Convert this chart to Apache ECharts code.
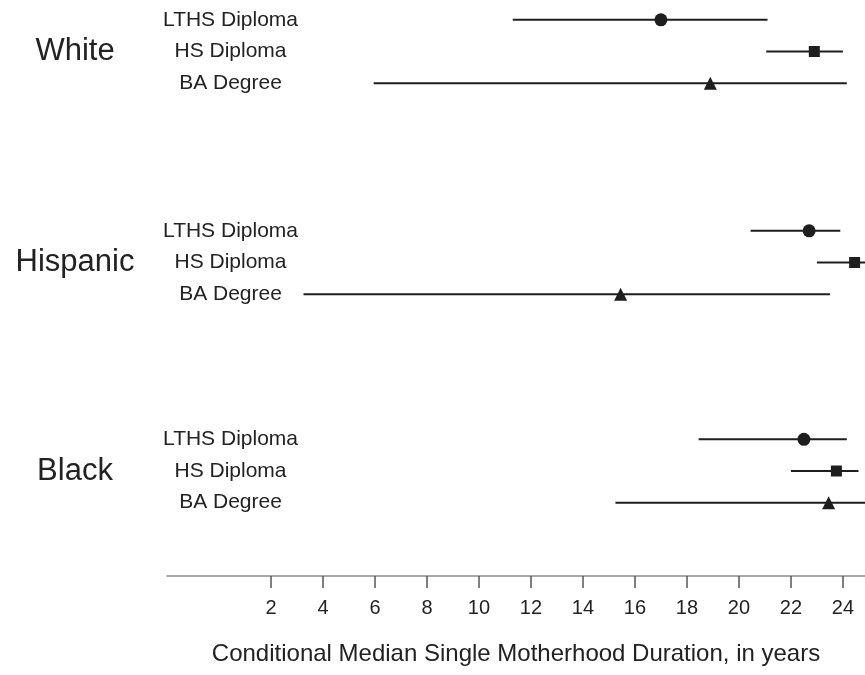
<!DOCTYPE html>
<html>
<head>
<meta charset="utf-8">
<script src="https://cdn.jsdelivr.net/npm/echarts@6/dist/echarts.min.js"></script>
<style>
  html, body { margin: 0; padding: 0; background: #fff; }
  #durationChart { width: 865px; height: 675px; }
</style>
</head>
<body>
<div id="durationChart"></div>
<script>
// groups and education levels
var groups = ['White', 'Hispanic', 'Black'];
var levels = ['LTHS Diploma', 'HS Diploma', 'BA Degree'];

// conditional median + interval, in years (LTHS, HS, BA)
var whiteMedian = [17.0, 22.9, 18.9];
var whiteLow = [11.3, 21.05, 5.95];
var whiteHigh = [21.1, 24.0, 24.15];

var hispanicMedian = [22.7, 24.45, 15.45];
var hispanicLow = [20.45, 23.0, 3.25];
var hispanicHigh = [23.9, 25.5, 23.5];

var blackMedian = [22.5, 23.75, 23.45];
var blackLow = [18.45, 22.0, 15.25];
var blackHigh = [24.15, 24.6, 25.5];

var xTicks = [2, 4, 6, 8, 10, 12, 14, 16, 18, 20, 22, 24];

var ink = '#1e1e1e';
var font = 'Liberation Sans, Arial, sans-serif';
var markers = ['circle', 'rect', 'triangle'];
var markerSizes = [13, 11, 13];

var medians = [whiteMedian, hispanicMedian, blackMedian];
var lows = [whiteLow, hispanicLow, blackLow];
var highs = [whiteHigh, hispanicHigh, blackHigh];

var gridTops = [4, 215, 423.5];
var grids = [], xAxes = [], yAxes = [], series = [];

groups.forEach(function (g, gi) {
  grids.push({ left: 167, right: 0, top: gridTops[gi], height: 95, containLabel: false });
  var isLast = gi === groups.length - 1;
  xAxes.push({
    type: 'value',
    gridIndex: gi,
    min: -2,
    max: 24.85,
    interval: 2,
    show: isLast,
    offset: isLast ? 57.5 : 0,
    splitLine: { show: false },
    axisLine: { show: true, lineStyle: { color: '#8c8c8c', width: 1.5 } },
    axisTick: { show: true, length: 12, customValues: xTicks, lineStyle: { color: '#555', width: 1.5 } },
    axisLabel: { customValues: xTicks, margin: 22, fontSize: 20, color: '#222', fontFamily: font },
    name: isLast ? 'Conditional Median Single Motherhood Duration, in years' : '',
    nameLocation: 'middle',
    nameGap: 66,
    nameTextStyle: { fontSize: 24, color: '#222', fontFamily: font }
  });
  yAxes.push({
    type: 'category',
    gridIndex: gi,
    inverse: true,
    data: levels,
    axisLine: { show: false },
    axisTick: { show: false },
    splitLine: { show: false },
    axisLabel: { inside: true, align: 'center', margin: 63.5, fontSize: 21, color: '#222', fontFamily: font },
    name: g,
    nameLocation: 'middle',
    nameRotate: 0,
    nameGap: 92,
    nameTextStyle: { fontSize: 31, color: '#222', fontFamily: font, align: 'center', verticalAlign: 'middle' }
  });

  var bars = levels.map(function (l, i) { return [lows[gi][i], highs[gi][i], i]; });
  series.push({
    type: 'custom',
    xAxisIndex: gi,
    yAxisIndex: gi,
    encode: { x: [0, 1], y: 2 },
    data: bars,
    renderItem: function (params, api) {
      var a = api.coord([api.value(0), api.value(2)]);
      var b = api.coord([api.value(1), api.value(2)]);
      return {
        type: 'line',
        shape: { x1: a[0], y1: a[1], x2: b[0], y2: b[1] },
        style: { stroke: ink, lineWidth: 2 }
      };
    }
  });
  series.push({
    type: 'scatter',
    xAxisIndex: gi,
    yAxisIndex: gi,
    data: levels.map(function (l, i) {
      return { value: [medians[gi][i], i], symbol: markers[i], symbolSize: markerSizes[i] };
    }),
    itemStyle: { color: ink, opacity: 1 },
    z: 5
  });
});

var option = {
  animation: false,
  grid: grids,
  xAxis: xAxes,
  yAxis: yAxes,
  series: series
};

var chart = echarts.init(document.getElementById('durationChart'));
chart.setOption(option);
</script>
</body>
</html>
